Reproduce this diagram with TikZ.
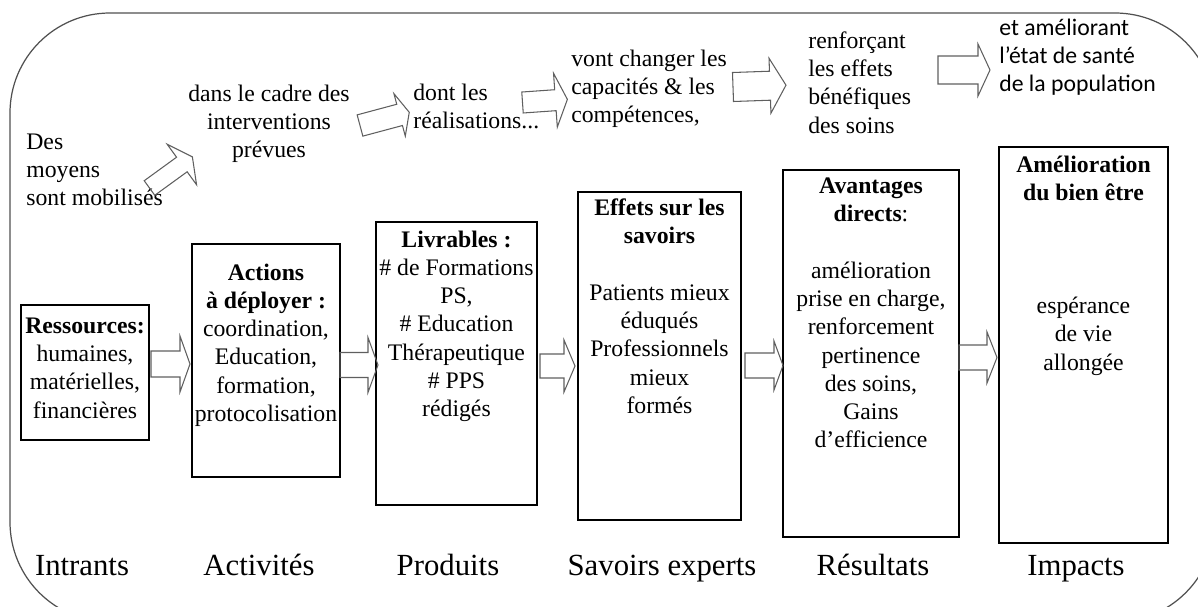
\documentclass[tikz,border=0pt]{standalone}
\usepackage{fontspec}
\setmainfont{Liberation Serif}
\newfontfamily\calibrifont{Carlito}
\usetikzlibrary{positioning}

\definecolor{framegray}{RGB}{80,80,80}
\definecolor{arrowgray}{RGB}{95,95,95}

\begin{document}
\begin{tikzpicture}[x=0.02cm, y=-0.02cm,
    txt/.style={inner sep=0pt, font=\fontsize{13.5}{16.1}\selectfont, execute at begin node=\strut},
    box/.style={draw, line width=1.6pt, inner sep=0pt, outer sep=0pt, anchor=north west},
    stage/.style={inner sep=0pt, anchor=base, font=\fontsize{17.5}{20}\selectfont},
    arrowline/.style={draw=arrowgray, line width=.6pt, line join=miter},
    % length / shaft half width / head half width / head length
    pics/fatarrow/.style n args={4}{code={
      \draw[arrowline] (0,-#2) -- (#1-#4,-#2) -- (#1-#4,-#3) -- (#1,0)
        -- (#1-#4,#3) -- (#1-#4,#2) -- (0,#2) -- cycle;}}]
  \useasboundingbox (0,0) rectangle (1198,606);

  % rounded frame, partly cut by the page
  \begin{scope}
    \clip (0,0) rectangle (1198,606);
    \draw[framegray, line width=.7pt, rounded corners=2cm] (10,13) rectangle (1215,622);
  \end{scope}

  % top line of text
  \node[txt, anchor=north west, align=left] (moyens) at (26,133.3) {Des\\moyens\\sont mobilisés};
  \node[txt, anchor=north, align=center] (cadre) at (269,84.3) {dans le cadre des\\interventions\\prévues};
  \node[txt, anchor=north west, align=left] (realis) at (413,83.3) {dont les\\réalisations...};
  \node[txt, anchor=north west, align=left] (changer) at (571,49.3) {vont changer les\\capacités \& les\\compétences,};
  \node[txt, anchor=north west, align=left] (renforc) at (808,31.3) {renforçant\\les effets\\bénéfiques\\des soins};
  \node[txt, anchor=north west, align=left, font=\calibrifont\fontsize{13.5}{16.1}\selectfont] (sante) at (999,18.3) {et améliorant\\l’état de santé\\de la population};

  \pic[rotate=36] (t1) at (149.5,188) {fatarrow={53}{9}{25}{13}};
  \pic[rotate=15] (t2) at (360,125.5) {fatarrow={51}{11}{22}{10}};
  \pic[rotate=4] (t3) at (522.5,102.5) {fatarrow={45}{10.5}{27}{12}};
  \pic[rotate=2] (t4) at (733,87) {fatarrow={53}{14.5}{27.5}{16}};
  \pic (t5) at (938,70) {fatarrow={52}{14}{26}{12}};

  % boxes
  \node[box, minimum width=2.56cm, minimum height=2.7cm] (res) at (21,305) {};
  \node[box, minimum width=2.96cm, minimum height=4.66cm] (act) at (192,244) {};
  \node[box, minimum width=3.22cm, minimum height=5.66cm] (livr) at (376,222) {};
  \node[box, minimum width=3.26cm, minimum height=6.56cm] (savoir) at (578,192) {};
  \node[box, minimum width=3.52cm, minimum height=7.34cm] (avant) at (783,170) {};
  \node[box, minimum width=3.38cm, minimum height=7.92cm] (bienetre) at (999,147) {};

  \node[txt, align=center, below=.25cm of res.north] (restxt) {\textbf{Ressources:}\\humaines,\\matérielles,\\financières};
  \node[txt, align=center, below=.386cm of act.north] (acttxt) {\textbf{Actions}\\\textbf{à déployer :}\\coordination,\\Education,\\formation,\\protocolisation};
  \node[txt, align=center, below=.166cm of livr.north] (livrtxt) {\textbf{Livrables :}\\\# de Formations\\PS,\\\# Education\\Thérapeutique\\\# PPS\\rédigés};
  \node[txt, align=center, below=.126cm of savoir.north] (savoirtxt) {\textbf{Effets sur les}\\\textbf{savoirs}\\[16.1pt]Patients mieux\\éduqués\\Professionnels\\mieux\\formés};
  \node[txt, align=center, below=.146cm of avant.north] (avanttxt) {\textbf{Avantages}\\\textbf{directs}:\\[16.1pt]amélioration\\prise en charge,\\renforcement\\pertinence\\des soins,\\Gains\\d’efficience};
  \node[txt, align=center, below=.166cm of bienetre.north] (bienetretxt) {\textbf{Amélioration}\\\textbf{du bien être}\\[48.3pt]espérance\\de vie\\allongée};

  \pic (a1) at (151,364) {fatarrow={39}{13}{28}{10}};
  \pic (a2) at (340,365) {fatarrow={38}{12.5}{27.5}{10}};
  \pic (a3) at (540,366) {fatarrow={35}{12}{26}{11}};
  \pic (a4) at (745,365.5) {fatarrow={38}{12.5}{24.5}{9}};
  \pic (a5) at (959,357.5) {fatarrow={38}{12.5}{25.5}{10}};

  % stage names
  \node[stage] (intrants) at (82,575) {Intrants};
  \node[stage] (activites) at (259,575) {Activités};
  \node[stage] (produits) at (448,575) {Produits};
  \node[stage] (experts) at (662,575) {Savoirs experts};
  \node[stage] (resultats) at (873,575) {Résultats};
  \node[stage] (impacts) at (1076,575) {Impacts};
\end{tikzpicture}
\end{document}
